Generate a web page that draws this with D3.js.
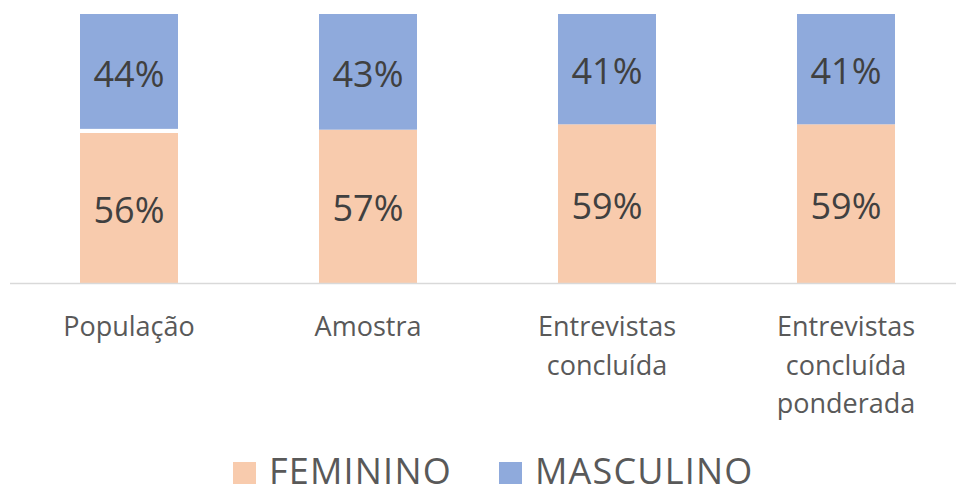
<!DOCTYPE html>
<html><head><meta charset="utf-8">
<script src="https://cdn.jsdelivr.net/npm/d3@7"></script>
<style>body{margin:0;background:#fff}svg{display:block;font-family:"Open Sans",sans-serif}</style>
</head><body><svg id="c" width="956" height="489"></svg>
<script>
const categories = [["População"], ["Amostra"], ["Entrevistas","concluída"], ["Entrevistas","concluída","ponderada"]];
const feminino = [55.8, 57, 59, 59];
const separador = [1.5, 0, 0, 0];
const masculino = [42.7, 43, 41, 41];
const femininoLabels = ["56%", "57%", "59%", "59%"];
const masculinoLabels = ["44%", "43%", "41%", "41%"];
const seriesNames = ["FEMININO", "MASCULINO"];
const colors = {FEMININO: "#F8CBAD", SEP: "#FFFFFF", MASCULINO: "#8FAADC"};

const svg = d3.select("#c");
const x = d3.scaleBand().domain(d3.range(categories.length)).range([9.5, 965.5]).paddingInner(0.59).paddingOuter(0.295);
const y = d3.scaleLinear().domain([0, 100]).range([283, 14]);

const rows = categories.map((c, i) => ({i, FEMININO: feminino[i], SEP: separador[i], MASCULINO: masculino[i]}));
const stack = d3.stack().keys(["FEMININO", "SEP", "MASCULINO"])(rows);

svg.append("g").selectAll("g").data(stack).join("g").attr("fill", d => colors[d.key])
  .selectAll("rect").data(d => d).join("rect")
  .attr("x", d => x(d.data.i)).attr("width", x.bandwidth())
  .attr("y", d => y(d[1])).attr("height", d => y(d[0]) - y(d[1]));

// axis line
svg.append("line").attr("x1", 10).attr("x2", 956).attr("y1", y(0) + 0.5).attr("y2", y(0) + 0.5)
  .attr("stroke", "#d9d9d9").attr("stroke-width", 1.5);

// data labels
const lab = svg.append("g").attr("fill", "#404040").attr("font-size", 36).attr("text-anchor", "middle");
stack.forEach(s => {
  if (s.key === "SEP") return;
  const labels = s.key === "FEMININO" ? femininoLabels : masculinoLabels;
  s.forEach((d, i) => {
    lab.append("text").attr("x", x(i) + x.bandwidth() / 2).attr("y", (y(d[0]) + y(d[1])) / 2)
      .attr("dy", "0.42em").text(labels[i]);
  });
});

// category labels
const cat = svg.append("g").attr("fill", "#595959").attr("font-size", 27).attr("text-anchor", "middle");
categories.forEach((lines, i) => {
  const t = cat.append("text").attr("x", x(i) + x.bandwidth() / 2).attr("y", 336);
  lines.forEach((l, j) => t.append("tspan").attr("x", x(i) + x.bandwidth() / 2).attr("dy", j ? 38.5 : 0).text(l));
});

// legend
const legendX = [233, 499];
const lg = svg.append("g");
seriesNames.forEach((n, i) => {
  lg.append("rect").attr("x", legendX[i]).attr("y", 462).attr("width", 23).attr("height", 22).attr("fill", colors[n]);
  lg.append("text").attr("x", legendX[i] + 36).attr("y", 484).attr("font-size", 36)
    .attr("letter-spacing", 1.2).attr("fill", "#595959").text(n);
});
</script></body></html>
